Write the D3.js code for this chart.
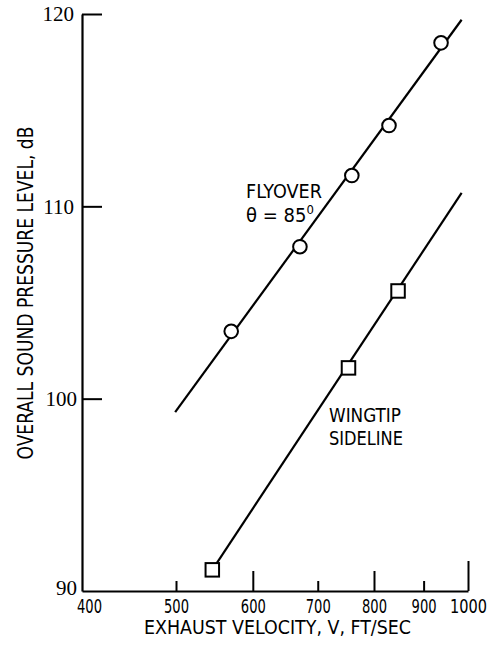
<!DOCTYPE html>
<html>
<head>
<meta charset="utf-8">
<script src="https://cdn.jsdelivr.net/npm/d3@7"></script>
<style>
  html, body { margin: 0; padding: 0; background: #fff; }
  svg { display: block; }
</style>
</head>
<body>
<script>
// ---- data ----
const xTicks = [400, 500, 600, 700, 800, 900, 1000];
const yTicks = [90, 100, 110, 120];

const flyoverV  = [570, 671, 759, 829, 938];
const flyoverDb = [103.5, 107.9, 111.6, 114.2, 118.5];
const flyoverFitV  = [499, 985];
const flyoverFitDb = [99.3, 119.7];

const wingtipV  = [545, 753, 847];
const wingtipDb = [91.1, 101.6, 105.6];
const wingtipFitV  = [545, 985];
const wingtipFitDb = [91.1, 110.7];

const xTitle = "EXHAUST VELOCITY, V, FT/SEC";
const yTitle = "OVERALL SOUND PRESSURE LEVEL, dB";

// ---- layout ----
const W = 496, H = 646;
const svg = d3.select("body").append("svg").attr("width", W).attr("height", H);

const x = d3.scaleLog().domain([400, 1000]).range([82, 468]);
const y = d3.scaleLinear().domain([90, 120]).range([591, 14]);

const narrow = "'Liberation Sans Narrow', 'DejaVu Sans Condensed', 'Liberation Sans', sans-serif";
const serif = "'Liberation Serif', 'DejaVu Serif', serif";

// x axis
const xAxis = d3.axisBottom(x).tickValues(xTicks).tickFormat(d3.format("d"))
  .tickSizeInner(-10).tickSizeOuter(0).tickPadding(0);
const gx = svg.append("g").attr("transform", `translate(0,${y(90)})`).call(xAxis);
gx.select(".domain").attr("stroke", "#000").attr("stroke-width", 2.2);
const tickLen = v => v === 1000 ? 30 : (v === 600 || v === 800) ? 20 : v === 400 ? 0 : 10;
gx.selectAll(".tick line").attr("stroke", "#000").attr("stroke-width", 2).attr("y2", d => -tickLen(d));
gx.selectAll(".tick text")
  .attr("font-family", narrow).attr("font-size", 19).attr("fill", "#000")
  .attr("dy", null).attr("y", 22)
  .attr("textLength", d => d === 1000 ? 37 : 25).attr("lengthAdjust", "spacingAndGlyphs")
  .attr("dx", d => d === 400 ? 7 : 0);

// y axis
const yAxis = d3.axisLeft(y).tickValues(yTicks).tickFormat(d3.format("d"))
  .tickSizeInner(-20).tickSizeOuter(0).tickPadding(7);
const gy = svg.append("g").attr("transform", `translate(${x(400)},0)`).call(yAxis);
gy.select(".domain").attr("stroke", "#000").attr("stroke-width", 2.2);
gy.selectAll(".tick line").attr("stroke", "#000").attr("stroke-width", 2)
  .attr("x2", d => d === 90 ? 0 : 20);
gy.selectAll(".tick text")
  .attr("font-family", serif).attr("font-size", 21).attr("fill", "#000")
  .attr("dy", d => d === 90 ? "0.15em" : "0.33em")
  .attr("x", d => d >= 110 ? -8 : -5);

// fitted lines
const line = d3.line().x(d => x(d[0])).y(d => y(d[1]));
svg.append("path").datum(d3.zip(flyoverFitV, flyoverFitDb))
  .attr("d", line).attr("fill", "none").attr("stroke", "#000").attr("stroke-width", 2.2);
svg.append("path").datum(d3.zip(wingtipFitV, wingtipFitDb))
  .attr("d", line).attr("fill", "none").attr("stroke", "#000").attr("stroke-width", 2.2);

// symbols
svg.append("g").selectAll("circle").data(d3.zip(flyoverV, flyoverDb)).join("circle")
  .attr("cx", d => x(d[0])).attr("cy", d => y(d[1])).attr("r", 6.8)
  .attr("fill", "#fff").attr("stroke", "#000").attr("stroke-width", 2);
const s = 13.5;
svg.append("g").selectAll("rect").data(d3.zip(wingtipV, wingtipDb)).join("rect")
  .attr("x", d => x(d[0]) - s / 2).attr("y", d => y(d[1]) - s / 2)
  .attr("width", s).attr("height", s)
  .attr("fill", "#fff").attr("stroke", "#000").attr("stroke-width", 2);

// annotations
function label(txt, lx, ly, len) {
  return svg.append("text").attr("x", lx).attr("y", ly)
    .attr("font-family", narrow).attr("font-size", 20).attr("fill", "#000")
    .attr("textLength", len).attr("lengthAdjust", "spacingAndGlyphs").text(txt);
}
label("FLYOVER", 246, 198, 76);
const th = svg.append("text").attr("x", 246).attr("y", 222)
  .attr("font-family", narrow).attr("font-size", 20).attr("fill", "#000");
th.append("tspan").text("θ = 85");
th.append("tspan").attr("font-size", 13).attr("dy", -8).text("0");
label("WINGTIP", 329, 422, 72);
label("SIDELINE", 329, 445, 74);

// axis titles
svg.append("text").attr("x", 277.5).attr("y", 634).attr("text-anchor", "middle")
  .attr("font-family", narrow).attr("font-size", 19.5).attr("fill", "#000")
  .attr("textLength", 267).attr("lengthAdjust", "spacingAndGlyphs").text(xTitle);
svg.append("text").attr("transform", "translate(33,293) rotate(-90)").attr("text-anchor", "middle")
  .attr("font-family", narrow).attr("font-size", 21).attr("fill", "#000")
  .attr("textLength", 333).attr("lengthAdjust", "spacingAndGlyphs").text(yTitle);
</script>
</body>
</html>
